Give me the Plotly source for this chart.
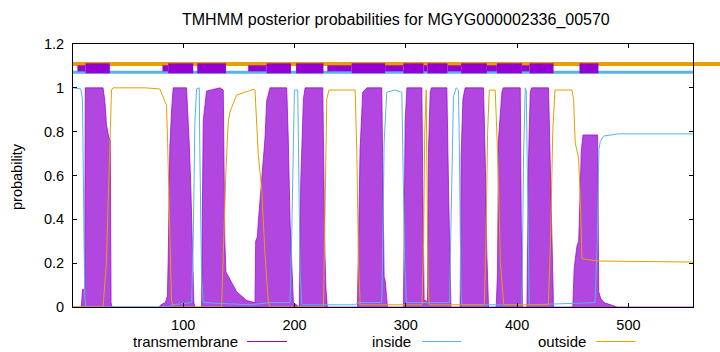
import plotly.graph_objects as go

TITLE = "TMHMM posterior probabilities for MGYG000002336_00570"
SEQ_LEN = 558

# transmembrane posterior probability (breakpoints)
TM_X = [1, 8.5, 9.5, 11.5, 12, 28, 29.6, 31.1, 33, 34.5, 35.2, 36,
        78, 80, 84, 85.8, 86.5, 87.5, 88, 89.6, 91, 103, 104.5, 105.4, 106.9, 108.4, 109.6, 110.5,
        116.5, 117.4, 118, 121, 133, 136, 137.4, 138.4, 143.5, 148, 157, 163,
        164.5, 165.1, 166.6, 167.5, 169, 170.5, 172, 173.5, 175, 178, 193, 194.4, 196, 197.5, 199,
        204.3, 205, 205.6, 208, 209.5, 225.4, 226.5, 227.3, 228.3, 229.5,
        256.5, 257.4, 258.9, 261.3, 265, 278.4, 279.3, 280.5, 281.5, 282.5, 283.5,
        297.9, 298.8, 299.4, 301, 314.4, 315.3, 316.5, 318, 319.5, 320.4, 321.9, 323,
        336.9, 338.4, 340.5, 348.8, 349.7, 351.3, 353.3, 369.8, 371.3, 372.8, 374.3,
        381.2, 382.4, 383.3, 386.3, 387.5, 402.8, 403.7, 404.9, 408.8, 410.3, 411.8, 413,
        428.2, 429.8, 431.3, 432.7, 450, 451.3, 453.8, 455.3, 456.7, 457.6, 459.2,
        472.3, 473.3, 475, 478, 485, 490, 558]
TM_Y = [0, 0, 0.08, 0.08, 1.0, 1.0, 0.94, 0.83, 0.78, 0.76, 0.02, 0,
        0, 0.01, 0.02, 0.05, 0.21, 0.55, 0.73, 0.9, 1.0, 1.0, 0.85, 0.75, 0.54, 0.24, 0.02, 0,
        0, 0.54, 0.85, 0.985, 1.0, 0.99, 0.3, 0.16, 0.115, 0.07, 0.03, 0.02,
        0.02, 0.30, 0.32, 0.39, 0.48, 0.57, 0.69, 0.77, 0.94, 1.0, 1.0, 0.77, 0.39, 0.16, 0.02,
        0.0, 0.3, 0.57, 0.95, 1.0, 1.0, 0.54, 0.25, 0.08, 0,
        0, 0.28, 0.72, 0.98, 1.0, 1.0, 0.54, 0.14, 0.12, 0.05, 0,
        0, 0.54, 0.85, 1.0, 1.0, 0.54, 0.03, 0.03, 0.02, 0.72, 0.98, 1.0,
        1.0, 0.54, 0.0, 0.0, 0.69, 0.95, 1.0, 1.0, 0.69, 0.24, 0.0,
        0, 0.16, 0.77, 0.98, 1.0, 1.0, 0.39, 0, 0, 0.69, 0.98, 1.0,
        1.0, 0.69, 0.39, 0, 0, 0.18, 0.28, 0.30, 0.54, 0.71, 0.785,
        0.785, 0.07, 0.04, 0.02, 0.01, 0, 0]

# inside probability
IN_X = [1, 8, 9.5, 10.5, 11.5, 12.5, 87, 90, 107.6, 109, 110.5, 112, 114.4, 115, 116.5, 118,
        160, 178, 196, 197.5, 199, 199.9, 202.9, 203.8, 205, 206.5, 209, 254, 258,
        278.4, 279.9, 280.5, 282.9, 290, 296.4, 297.5, 299, 300.5, 339.3, 339.9, 341.4, 342.8,
        345.2, 347.3, 348.2, 349.5, 350.4, 404.3, 405.8, 407.3, 408.2, 409.4, 410.9,
        470, 472, 473.5, 474.7, 477.7, 491, 558]
IN_Y = [1.0, 0.995, 0.95, 0.5, 0.05, 0.0, 0.0, 0.01, 0.02, 0.3, 0.84, 0.995, 1.0, 0.7, 0.14, 0.02,
        0.01, 0.02, 0.02, 0.33, 0.81, 0.99, 0.99, 0.7, 0.16, 0.01, 0.01, 0.01, 0.02,
        0.02, 0.5, 0.75, 0.98, 0.99, 0.98, 0.7, 0.2, 0.02, 0.02, 0.2, 0.69, 0.96,
        1.0, 0.99, 0.69, 0.07, 0.01, 0.01, 0.69, 1.0, 0.985, 0.54, 0.01,
        0.02, 0.3, 0.72, 0.755, 0.78, 0.79, 0.79]

# outside probability
OUT_X = [1, 28, 31, 32.5, 34, 35.6, 37, 66, 79, 82, 85, 86, 87, 88, 89.5, 91,
         134.5, 136, 138.4, 140.5, 142, 148, 163, 164.5, 167.5, 170.5, 173.5, 176.5, 178,
         226, 227.5, 229, 231, 254.5, 256, 257.5, 259,
         314.5, 316, 317, 318.3, 319.2, 320, 321, 370.5, 372, 373.5, 375, 380.3, 382.5, 385, 388,
         428, 430, 432, 434, 449.3, 450.7, 452.2, 455.2, 456.7, 458.3, 471.7, 558]
OUT_Y = [0, 0, 0.2, 0.47, 0.77, 0.99, 1.0, 1.0, 0.995, 0.955, 0.92, 0.75, 0.55, 0.35, 0.03, 0,
         0, 0.24, 0.62, 0.845, 0.89, 0.967, 0.993, 0.99, 0.69, 0.54, 0.24, 0.02, 0,
         0, 0.5, 0.95, 0.99, 0.99, 0.7, 0.2, 0.01,
         0.01, 0.3, 0.8, 0.99, 0.6, 0.1, 0.01, 0.01, 0.3, 0.8, 0.99, 0.99, 0.7, 0.2, 0.01,
         0.01, 0.3, 0.8, 0.99, 0.99, 0.95, 0.75, 0.68, 0.5, 0.22, 0.21, 0.205]

# predicted topology band above the curves
TM_BOX_START = [12.3, 86.5, 112.6, 175, 201.4, 251.4, 297.8, 319.5, 349.7, 381.8, 411.2, 456]
TM_BOX_END = [34.1, 109, 138.4, 196.8, 226, 281.4, 315.8, 337.4, 372.8, 404.3, 432.7, 473]
LINK_START = [5, 81.4, 158.4, 229.5, 281.4, 315.8, 337.4, 372.8, 404.3]
LINK_END = [12.3, 86.5, 175, 251.4, 297.8, 319.5, 349.7, 381.8, 411.2]
OUT_LEVEL = 1.109
IN_LEVEL = 1.071
BOX_LEVEL = 1.089

LEGEND_NAMES = ["transmembrane", "inside", "outside"]

PURPLE = "#9400D3"
BLUE = "#56B4E9"
ORANGE = "#E69F00"
FONT = "Liberation Sans"

W, H = 720, 352
L, R, T, B = 73, 692.7, 44, 307


def px_x(p):
    return (p - L) / (R - L)


def px_y(p):
    return (B - p) / (B - T)


def segs(starts, ends, level):
    xs, ys = [], []
    for s, e in zip(starts, ends):
        xs += [s, e, None]
        ys += [level, level, None]
    return xs, ys


fig = go.Figure()

# TM posterior as filled impulses-like area
fig.add_trace(go.Scatter(x=TM_X, y=TM_Y, mode="lines", fill="tozeroy",
                         line=dict(color="rgba(148,0,211,0.7)", width=1),
                         fillcolor="rgba(148,0,211,0.72)", showlegend=False,
                         hoverinfo="skip"))
fig.add_trace(go.Scatter(x=IN_X, y=IN_Y, mode="lines",
                         line=dict(color=BLUE, width=1), showlegend=False))
fig.add_trace(go.Scatter(x=OUT_X, y=OUT_Y, mode="lines",
                         line=dict(color=ORANGE, width=1), showlegend=False))

# topology band
fig.add_trace(go.Scatter(x=[1, SEQ_LEN], y=[IN_LEVEL, IN_LEVEL], mode="lines",
                         line=dict(color=BLUE, width=3), showlegend=False))
lx, ly = segs(LINK_START, LINK_END, BOX_LEVEL)
fig.add_trace(go.Scatter(x=lx, y=ly, mode="lines",
                         line=dict(color=PURPLE, width=6), showlegend=False))
bx, by = segs(TM_BOX_START, TM_BOX_END, BOX_LEVEL)
fig.add_trace(go.Scatter(x=bx, y=by, mode="lines",
                         line=dict(color=PURPLE, width=10), showlegend=False))

shapes = []
# outside line of the topology band (runs past the frame as in the original)
shapes.append(dict(type="line", xref="paper", yref="y", x0=0, x1=1.2,
                   y0=OUT_LEVEL, y1=OUT_LEVEL, line=dict(color=ORANGE, width=4),
                   layer="below"))

annotations = []
# legend (text followed by sample line, gnuplot style)
legend_text_right = [240, 413, 588]
legend_line = [(247, 287), (422, 461), (596, 635)]
legend_colors = [PURPLE, BLUE, ORANGE]
ly_px = 341.5
for name, tr, (a, b), c in zip(LEGEND_NAMES, legend_text_right, legend_line, legend_colors):
    annotations.append(dict(text=name, xref="paper", yref="paper", x=px_x(tr), y=px_y(ly_px),
                            xanchor="right", yanchor="middle", showarrow=False,
                            font=dict(family=FONT, size=15, color="black")))
    shapes.append(dict(type="line", xref="paper", yref="paper", x0=px_x(a), x1=px_x(b),
                       y0=px_y(ly_px), y1=px_y(ly_px), line=dict(color=c, width=1)))

annotations.append(dict(text="probability", xref="paper", yref="paper", x=px_x(17), y=px_y(176),
                        xanchor="center", yanchor="middle", textangle=-90, showarrow=False,
                        font=dict(family=FONT, size=14.5, color="black")))
annotations.append(dict(text=TITLE, xref="paper", yref="paper", x=px_x(396), y=px_y(20),
                        xanchor="center", yanchor="middle", showarrow=False,
                        font=dict(family=FONT, size=16, color="black")))

fig.update_layout(
    width=W, height=H,
    margin=dict(l=L, r=W - R, t=T, b=H - B, pad=0),
    paper_bgcolor="white", plot_bgcolor="white",
    font=dict(family=FONT, size=14.5, color="black"),
    showlegend=False,
    shapes=shapes, annotations=annotations,
    xaxis=dict(range=[1, SEQ_LEN], tickmode="linear", tick0=100, dtick=100,
               ticks="inside", ticklen=4, tickcolor="black", showline=True,
               linecolor="black", linewidth=1, mirror="ticks", showgrid=False,
               zeroline=False, ticklabelstandoff=5,
               tickfont=dict(family=FONT, size=14.5, color="black")),
    yaxis=dict(range=[0, 1.2], tickmode="linear", tick0=0, dtick=0.2,
               ticks="inside", ticklen=4, tickcolor="black", showline=True,
               linecolor="black", linewidth=1, mirror="ticks", showgrid=False,
               zeroline=False, ticklabelstandoff=5,
               tickfont=dict(family=FONT, size=14.5, color="black")),
)

fig.write_html("out.html")
